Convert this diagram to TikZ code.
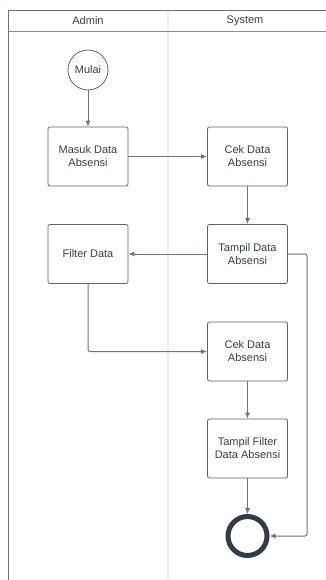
\documentclass[tikz,border=0pt]{standalone}
\usepackage{fontspec}
\setmainfont{Liberation Sans}
\usetikzlibrary{arrows.meta}
\definecolor{linegray}{HTML}{6E737A}
\definecolor{boxgray}{HTML}{5F6368}
\definecolor{txtgray}{HTML}{3A3F45}
\definecolor{endcol}{HTML}{343B45}
\definecolor{lanegray}{HTML}{EDEDED}
\tikzset{
  actbox/.style={draw=boxgray, line width=0.8pt, rounded corners=2pt, minimum width=80pt, minimum height=59pt, align=center, text=txtgray, font=\fontsize{11pt}{13pt}\selectfont, inner sep=1pt},
  startnode/.style={draw=boxgray, line width=0.8pt, circle, minimum size=40pt, inner sep=0pt, text=txtgray, font=\fontsize{11pt}{13pt}\selectfont},
  endnode/.style={draw=endcol, line width=5pt, circle, minimum size=39pt, inner sep=0pt},
  flow/.style={draw=linegray, line width=1pt, rounded corners=2pt, -{Latex[length=6pt,width=5pt]}},
  hdr/.style={text=txtgray, font=\fontsize{11pt}{13pt}\selectfont}
}
\begin{document}
\begin{tikzpicture}[x=1pt,y=-1pt]
\useasboundingbox (0,0) rectangle (326,580);
\fill[white] (0,0) rectangle (326,580);
% lanes
\draw[lanegray, line width=1.5pt] (168,11) -- (168,580);
\draw[linegray!80, line width=1pt] (8,31.5) -- (326,31.5);
\draw[linegray, line width=1pt] (8,580) -- (8,11) -- (326,11);
\node[hdr] (hA) at (88,21) {Admin};
\node[hdr] (hS) at (245,21) {System};
% nodes
\node[startnode] (mulai) at (88,70) {Mulai};
\node[actbox] (masuk) at (88,156.5) {Masuk Data\\Absensi};
\node[actbox] (cek1) at (247.5,156.5) {Cek Data\\Absensi};
\node[actbox] (filter) at (88,254) {Filter Data};
\node[actbox] (tampil) at (247.5,254) {Tampil Data\\Absensi};
\node[actbox] (cek2) at (247.5,351.5) {Cek Data\\Absensi};
\node[actbox] (tfilter) at (247.5,448.5) {Tampil Filter\\Data Absensi};
\node[endnode] (end) at (247.5,536) {};
\coordinate (r1) at (307,254);
\coordinate (r2) at (307,536);
\coordinate (f1) at (88,351.5);
% connectors
\draw[flow] (mulai) -- (masuk);
\draw[flow] (masuk) -- (cek1);
\draw[flow] (cek1) -- (tampil);
\draw[flow] (tampil) -- (filter);
\draw[flow] (filter) -- (f1) -- (cek2);
\draw[flow] (cek2) -- (tfilter);
\draw[flow] (tfilter) -- (end);
\draw[flow] (tampil.east) -- (r1) -- (r2) -- (end);
\end{tikzpicture}
\end{document}
